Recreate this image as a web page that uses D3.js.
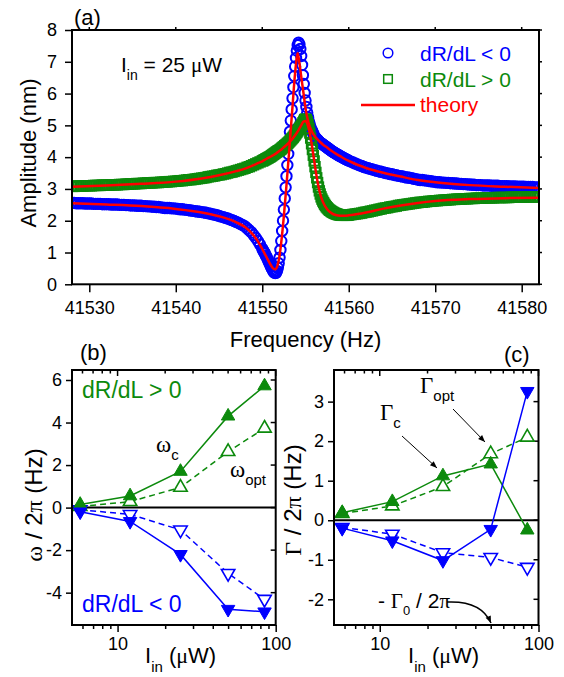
<!DOCTYPE html>
<html>
<head>
<meta charset="utf-8">
<script src="https://cdn.jsdelivr.net/npm/d3@7"></script>
<style>
body { margin: 0; background: #fff; }
svg text { font-family: "Liberation Sans", Arial, Helvetica, sans-serif; fill: #000; }
svg .greek { font-family: "Liberation Serif", "DejaVu Serif", serif; }
</style>
</head>
<body>
<div id="chart-area"></div>
<script>
// ---- panel (a): frequency sweep at 25 uW ----
var sweepHz = [
    41528, 41528.25, 41528.5, 41528.75, 41529, 41529.25, 41529.5, 41529.75,
    41530, 41530.25, 41530.5, 41530.75, 41531, 41531.25, 41531.5, 41531.75,
    41532, 41532.25, 41532.5, 41532.75, 41533, 41533.25, 41533.5, 41533.75,
    41534, 41534.25, 41534.5, 41534.75, 41535, 41535.25, 41535.5, 41535.75,
    41536, 41536.25, 41536.5, 41536.75, 41537, 41537.25, 41537.5, 41537.75,
    41538, 41538.25, 41538.5, 41538.75, 41539, 41539.25, 41539.5, 41539.75,
    41540, 41540.25, 41540.5, 41540.75, 41541, 41541.25, 41541.5, 41541.75,
    41542, 41542.25, 41542.5, 41542.75, 41543, 41543.25, 41543.5, 41543.75,
    41544, 41544.25, 41544.5, 41544.75, 41545, 41545.25, 41545.5, 41545.75,
    41546, 41546.25, 41546.5, 41546.75, 41547, 41547.25, 41547.5, 41547.75,
    41548, 41548.25, 41548.5, 41548.75, 41549, 41549.25, 41549.5, 41549.75,
    41550, 41550.1, 41550.2, 41550.3, 41550.4, 41550.5, 41550.6, 41550.7, 41550.8, 41550.9,
    41551, 41551.1, 41551.2, 41551.3, 41551.4, 41551.5, 41551.6, 41551.7, 41551.8, 41551.9,
    41552, 41552.1, 41552.2, 41552.3, 41552.4, 41552.5, 41552.6, 41552.7, 41552.8, 41552.9,
    41553, 41553.1, 41553.2, 41553.3, 41553.4, 41553.5, 41553.6, 41553.7, 41553.8, 41553.9,
    41554, 41554.1, 41554.2, 41554.3, 41554.4, 41554.5, 41554.6, 41554.7, 41554.8, 41554.9,
    41555, 41555.1, 41555.2, 41555.3, 41555.4, 41555.5, 41555.6, 41555.7, 41555.8, 41555.9,
    41556, 41556.1, 41556.2, 41556.3, 41556.4, 41556.5, 41556.6, 41556.7, 41556.8, 41556.9,
    41557, 41557.1, 41557.2, 41557.3, 41557.4, 41557.5, 41557.6, 41557.7, 41557.8, 41557.9,
    41558, 41558.1, 41558.2, 41558.3, 41558.4, 41558.5, 41558.6, 41558.7, 41558.8, 41558.9,
    41559, 41559.1, 41559.2, 41559.3, 41559.4, 41559.5, 41559.6, 41559.7, 41559.8, 41559.9,
    41560, 41560.25, 41560.5, 41560.75, 41561, 41561.25, 41561.5, 41561.75,
    41562, 41562.25, 41562.5, 41562.75, 41563, 41563.25, 41563.5, 41563.75,
    41564, 41564.25, 41564.5, 41564.75, 41565, 41565.25, 41565.5, 41565.75,
    41566, 41566.25, 41566.5, 41566.75, 41567, 41567.25, 41567.5, 41567.75,
    41568, 41568.25, 41568.5, 41568.75, 41569, 41569.25, 41569.5, 41569.75,
    41570, 41570.25, 41570.5, 41570.75, 41571, 41571.25, 41571.5, 41571.75,
    41572, 41572.25, 41572.5, 41572.75, 41573, 41573.25, 41573.5, 41573.75,
    41574, 41574.25, 41574.5, 41574.75, 41575, 41575.25, 41575.5, 41575.75,
    41576, 41576.25, 41576.5, 41576.75, 41577, 41577.25, 41577.5, 41577.75,
    41578, 41578.25, 41578.5, 41578.75, 41579, 41579.25, 41579.5, 41579.75,
    41580, 41580.25, 41580.5, 41580.75, 41581, 41581.25, 41581.5, 41581.75,
    41582
];

// dR/dL < 0 (circles)
var ampNeg = [
    2.56, 2.56, 2.55, 2.55, 2.55, 2.55, 2.54, 2.54,
    2.54, 2.54, 2.53, 2.53, 2.53, 2.53, 2.52, 2.52,
    2.52, 2.52, 2.51, 2.51, 2.51, 2.51, 2.50, 2.50,
    2.50, 2.49, 2.49, 2.48, 2.48, 2.48, 2.47, 2.47,
    2.47, 2.46, 2.46, 2.45, 2.45, 2.44, 2.44, 2.43,
    2.43, 2.42, 2.41, 2.40, 2.40, 2.40, 2.39, 2.39,
    2.38, 2.37, 2.36, 2.36, 2.35, 2.34, 2.33, 2.32,
    2.31, 2.30, 2.29, 2.28, 2.27, 2.26, 2.25, 2.23,
    2.22, 2.20, 2.19, 2.17, 2.15, 2.13, 2.11, 2.09,
    2.07, 2.04, 2.02, 1.99, 1.96, 1.93, 1.89, 1.86,
    1.82, 1.76, 1.70, 1.63, 1.55, 1.46, 1.36, 1.25,
    1.12, 1.07, 1.02, 0.97, 0.91, 0.86, 0.80, 0.74, 0.68, 0.62,
    0.56, 0.50, 0.45, 0.40, 0.37, 0.35, 0.36, 0.42, 0.52, 0.66,
    0.84, 1.08, 1.36, 1.68, 2.00, 2.35, 2.70, 3.05, 3.40, 3.75,
    4.10, 4.45, 4.80, 5.15, 5.50, 5.85, 6.20, 6.55, 6.85, 7.12,
    7.35, 7.52, 7.60, 7.55, 7.40, 7.18, 6.90, 6.58, 6.30, 6.02,
    5.78, 5.58, 5.40, 5.25, 5.12, 5.02, 4.93, 4.86, 4.80, 4.75,
    4.66, 4.63, 4.60, 4.57, 4.54, 4.51, 4.48, 4.46, 4.44, 4.42,
    4.40, 4.38, 4.36, 4.34, 4.32, 4.30, 4.28, 4.26, 4.24, 4.22,
    4.20, 4.18, 4.16, 4.15, 4.13, 4.11, 4.10, 4.08, 4.06, 4.05,
    4.03, 4.02, 4.00, 3.99, 3.97, 3.96, 3.94, 3.93, 3.92, 3.90,
    3.89, 3.86, 3.83, 3.80, 3.77, 3.74, 3.72, 3.69,
    3.67, 3.65, 3.63, 3.61, 3.59, 3.57, 3.55, 3.54,
    3.52, 3.50, 3.49, 3.47, 3.46, 3.44, 3.43, 3.41,
    3.40, 3.39, 3.37, 3.36, 3.35, 3.34, 3.32, 3.31,
    3.29, 3.28, 3.28, 3.27, 3.26, 3.25, 3.24, 3.23,
    3.22, 3.21, 3.21, 3.20, 3.20, 3.19, 3.19, 3.18,
    3.18, 3.17, 3.17, 3.16, 3.16, 3.15, 3.15, 3.14,
    3.14, 3.13, 3.13, 3.12, 3.12, 3.12, 3.11, 3.11,
    3.11, 3.11, 3.10, 3.10, 3.10, 3.10, 3.09, 3.09,
    3.09, 3.09, 3.08, 3.08, 3.08, 3.08, 3.07, 3.07,
    3.07, 3.07, 3.06, 3.06, 3.06, 3.06, 3.05, 3.05,
    3.05
];

// dR/dL > 0 (squares)
var ampPos = [
    3.08, 3.08, 3.09, 3.09, 3.09, 3.09, 3.10, 3.10,
    3.10, 3.10, 3.11, 3.11, 3.11, 3.11, 3.12, 3.12,
    3.12, 3.12, 3.13, 3.13, 3.13, 3.13, 3.14, 3.14,
    3.14, 3.15, 3.15, 3.16, 3.16, 3.16, 3.17, 3.17,
    3.17, 3.18, 3.18, 3.19, 3.19, 3.19, 3.20, 3.20,
    3.20, 3.21, 3.21, 3.22, 3.22, 3.23, 3.23, 3.24,
    3.24, 3.25, 3.26, 3.26, 3.27, 3.28, 3.29, 3.29,
    3.30, 3.31, 3.32, 3.33, 3.34, 3.35, 3.36, 3.38,
    3.39, 3.40, 3.41, 3.43, 3.44, 3.45, 3.47, 3.48,
    3.50, 3.52, 3.53, 3.55, 3.57, 3.59, 3.61, 3.63,
    3.65, 3.68, 3.70, 3.73, 3.76, 3.79, 3.82, 3.85,
    3.88, 3.89, 3.91, 3.92, 3.94, 3.95, 3.97, 3.98, 4.00, 4.01,
    4.03, 4.05, 4.07, 4.09, 4.11, 4.13, 4.15, 4.17, 4.19, 4.20,
    4.22, 4.24, 4.26, 4.29, 4.31, 4.33, 4.36, 4.38, 4.40, 4.43,
    4.45, 4.48, 4.51, 4.54, 4.57, 4.60, 4.63, 4.67, 4.70, 4.74,
    4.78, 4.82, 4.86, 4.90, 4.94, 4.98, 5.03, 5.08, 5.13, 5.18,
    5.20, 5.18, 5.12, 5.02, 4.90, 4.76, 4.60, 4.42, 4.24, 4.06,
    3.88, 3.70, 3.52, 3.35, 3.20, 3.06, 2.94, 2.84, 2.75, 2.68,
    2.62, 2.57, 2.52, 2.48, 2.44, 2.41, 2.38, 2.35, 2.33, 2.31,
    2.29, 2.27, 2.26, 2.24, 2.23, 2.22, 2.21, 2.20, 2.19, 2.19,
    2.18, 2.18, 2.17, 2.17, 2.17, 2.17, 2.17, 2.17, 2.17, 2.18,
    2.18, 2.19, 2.20, 2.21, 2.22, 2.23, 2.24, 2.26,
    2.27, 2.28, 2.30, 2.31, 2.33, 2.34, 2.36, 2.37,
    2.39, 2.40, 2.41, 2.43, 2.44, 2.45, 2.46, 2.48,
    2.49, 2.50, 2.51, 2.52, 2.53, 2.54, 2.55, 2.56,
    2.57, 2.58, 2.58, 2.59, 2.60, 2.61, 2.61, 2.62,
    2.63, 2.63, 2.64, 2.64, 2.65, 2.65, 2.66, 2.66,
    2.67, 2.67, 2.68, 2.68, 2.68, 2.69, 2.69, 2.69,
    2.70, 2.70, 2.70, 2.71, 2.71, 2.71, 2.71, 2.72,
    2.72, 2.72, 2.72, 2.72, 2.73, 2.73, 2.73, 2.73,
    2.73, 2.73, 2.73, 2.74, 2.74, 2.74, 2.74, 2.74,
    2.74, 2.74, 2.74, 2.75, 2.75, 2.75, 2.75, 2.75,
    2.75
];

// theory curves (red)
var theoryHz = [
    41528, 41532, 41536, 41540, 41543, 41545, 41547, 41548, 41549, 41549.5,
    41550, 41550.5, 41551, 41551.25, 41551.5, 41551.75, 41552, 41552.25, 41552.5, 41552.75,
    41553, 41553.25, 41553.5, 41553.75, 41554, 41554.1, 41554.25, 41554.5, 41554.75, 41555,
    41555.25, 41555.5, 41555.75, 41556, 41556.25, 41556.5, 41556.75, 41557, 41557.5, 41558,
    41558.5, 41559, 41559.5, 41560, 41561, 41562, 41564, 41566, 41568, 41570,
    41574, 41578, 41582
];
var theoryNeg = [
    2.55, 2.51, 2.46, 2.37, 2.26, 2.14, 1.95, 1.80, 1.54, 1.35,
    1.11, 0.85, 0.60, 0.50, 0.47, 0.58, 0.90, 1.45, 2.15, 2.95,
    3.80, 4.70, 5.60, 6.50, 7.15, 7.27, 7.05, 6.55, 6.05, 5.55,
    5.18, 4.95, 4.80, 4.68, 4.60, 4.53, 4.46, 4.40, 4.30, 4.20,
    4.11, 4.03, 3.95, 3.88, 3.76, 3.66, 3.51, 3.39, 3.28, 3.21,
    3.12, 3.07, 3.03
];
var theoryPos = [
    3.07, 3.11, 3.16, 3.23, 3.33, 3.43, 3.56, 3.64, 3.75, 3.81,
    3.87, 3.95, 4.02, 4.06, 4.10, 4.15, 4.20, 4.25, 4.31, 4.37,
    4.43, 4.50, 4.58, 4.67, 4.77, 4.81, 4.88, 5.00, 5.12, 5.14,
    5.02, 4.75, 4.35, 3.90, 3.45, 3.08, 2.80, 2.60, 2.36, 2.24,
    2.18, 2.16, 2.16, 2.17, 2.21, 2.26, 2.38, 2.48, 2.56, 2.62,
    2.68, 2.71, 2.72
];
var freqTicks = [41530, 41540, 41550, 41560, 41570, 41580];
var ampTicks = [0, 1, 2, 3, 4, 5, 6, 7, 8];

// ---- panels (b) and (c): versus input power ----
var powerUW = [5.8, 12, 25, 50, 85];
var omegaCPos = [0.15, 0.55, 1.70, 4.30, 5.72];
var omegaOptPos = [0.05, 0.28, 0.95, 2.63, 3.73];
var omegaCNeg = [-0.20, -0.65, -2.20, -4.78, -4.90];
var omegaOptNeg = [-0.10, -0.32, -1.05, -3.09, -4.31];
var gammaCPos = [0.19, 0.47, 1.12, 1.42, -0.25];
var gammaOptPos = [0.17, 0.36, 0.85, 1.68, 2.10];
var gammaCNeg = [-0.20, -0.52, -1.02, -0.23, 3.26];
var gammaOptNeg = [-0.18, -0.35, -0.82, -0.94, -1.19];
var powerTicks = [10, 100];
var powerMinor = [6, 7, 8, 9, 20, 30, 40, 50, 60, 70, 80, 90];
var omegaTicks = [-4, -2, 0, 2, 4, 6];
var gammaTicks = [-2, -1, 0, 1, 2, 3];

var blue = "#0000ff", green = "#0c8a0c", red = "#ff0000";
var plain = d => String(d);  // hyphen minus, like the original

var svg = d3.select("#chart-area").append("svg")
    .attr("width", 564)
    .attr("height", 677);

svg.append("rect").attr("width", 564).attr("height", 677).attr("fill", "#fff");

var defs = svg.append("defs");
defs.append("marker")
    .attr("id", "arrowhead")
    .attr("viewBox", "0 0 10 10")
    .attr("refX", 10).attr("refY", 5)
    .attr("markerWidth", 10).attr("markerHeight", 7)
    .attr("markerUnits", "userSpaceOnUse")
    .attr("orient", "auto")
    .append("path")
    .attr("d", "M0,1 L10,5 L0,9 Z")
    .attr("fill", "#000");

function styleAxis(g, size) {
    g.attr("font-size", size).attr("font-family", null);
    g.select(".domain").remove();
    g.selectAll(".tick line").attr("stroke", "#000").attr("stroke-width", 1.5);
    g.selectAll(".tick text").attr("fill", "#000");
}

// text made of pieces: [string, greek?, baseline shift, size]
function richText(parent, x, y, pieces, size, color, anchor) {
    var t = parent.append("text")
        .attr("x", x).attr("y", y)
        .attr("font-size", size)
        .attr("text-anchor", anchor || "start")
        .style("fill", color || "#000");
    var shift = 0;
    pieces.forEach(p => {
        var s = t.append("tspan").text(p[0]);
        if (p[1]) s.attr("class", "greek");
        var target = p[2] || 0;
        if (target !== shift) { s.attr("dy", target - shift); shift = target; }
        if (p[3]) s.attr("font-size", p[3]);
    });
    return t;
}

// ================= panel (a) =================
var xA = d3.scaleLinear().domain([41528, 41582]).range([72, 539]);
var yA = d3.scaleLinear().domain([0, 8]).range([284.3, 30]);

defs.append("clipPath").attr("id", "clipA")
    .append("rect")
    .attr("x", 72).attr("y", yA(8))
    .attr("width", 539 - 72).attr("height", yA(0) - yA(8));

var gA = svg.append("g");

gA.append("g")
    .attr("transform", `translate(0, ${yA(0)})`)
    .call(d3.axisBottom(xA).tickValues(freqTicks).tickSize(8).tickPadding(9).tickFormat(plain))
    .call(g => styleAxis(g, 18));

gA.append("g")
    .attr("transform", `translate(${xA.range()[0]}, 0)`)
    .call(d3.axisLeft(yA).tickValues(ampTicks).tickSize(7).tickPadding(8).tickFormat(plain))
    .call(g => styleAxis(g, 18));

// mirrored ticks on top and right
gA.selectAll("line.topTick").data(freqTicks).join("line")
    .attr("x1", d => xA(d)).attr("x2", d => xA(d))
    .attr("y1", yA(8)).attr("y2", yA(8) - 3)
    .attr("stroke", "#000").attr("stroke-width", 1.5);
gA.selectAll("line.rightTick").data(ampTicks).join("line")
    .attr("x1", xA.range()[1]).attr("x2", xA.range()[1] + 3)
    .attr("y1", d => yA(d)).attr("y2", d => yA(d))
    .attr("stroke", "#000").attr("stroke-width", 1.5);

var neg = d3.zip(sweepHz, ampNeg);
var pos = d3.zip(sweepHz, ampPos);

var plotA = gA.append("g").attr("clip-path", "url(#clipA)");

plotA.append("g").selectAll("circle").data(neg).join("circle")
    .attr("cx", d => xA(d[0])).attr("cy", d => yA(d[1]))
    .attr("r", 5.2)
    .attr("fill", "none").attr("stroke", blue).attr("stroke-width", 2);

plotA.append("g").selectAll("rect").data(pos).join("rect")
    .attr("x", d => xA(d[0]) - 4.7).attr("y", d => yA(d[1]) - 4.7)
    .attr("width", 9.4).attr("height", 9.4)
    .attr("fill", "none").attr("stroke", green).attr("stroke-width", 2);

var theoryLine = d3.line()
    .x(d => xA(d[0])).y(d => yA(d[1]))
    .curve(d3.curveMonotoneX);

plotA.append("path").attr("d", theoryLine(d3.zip(theoryHz, theoryNeg)))
    .attr("fill", "none").attr("stroke", red).attr("stroke-width", 2.5);
plotA.append("path").attr("d", theoryLine(d3.zip(theoryHz, theoryPos)))
    .attr("fill", "none").attr("stroke", red).attr("stroke-width", 2.5);

gA.append("rect")
    .attr("x", 72).attr("y", yA(8))
    .attr("width", 539 - 72).attr("height", yA(0) - yA(8))
    .attr("fill", "none").attr("stroke", "#000").attr("stroke-width", 2);

// legend
gA.append("circle").attr("cx", 388).attr("cy", 53).attr("r", 4.8)
    .attr("fill", "none").attr("stroke", blue).attr("stroke-width", 1.5);
gA.append("rect").attr("x", 388 - 4.3).attr("y", 79 - 4.3).attr("width", 8.6).attr("height", 8.6)
    .attr("fill", "none").attr("stroke", green).attr("stroke-width", 1.5);
gA.append("line").attr("x1", 361).attr("x2", 415).attr("y1", 105).attr("y2", 105)
    .attr("stroke", red).attr("stroke-width", 2.5);
richText(gA, 420, 61, [["dR/dL < 0"]], 21, blue);
richText(gA, 420, 87, [["dR/dL > 0"]], 21, green);
richText(gA, 420, 112, [["theory"]], 21, red);

richText(gA, 121, 72, [["I"], ["in", false, 8, 14], [" = 25 ", false, 0], ["μ", true], ["W"]], 21);
richText(svg, 74, 25, [["(a)"]], 22);

richText(svg, 305.5, 347, [["Frequency (Hz)"]], 22, "#000", "middle");
richText(svg, 0, 0, [["Amplitude (nm)"]], 22, "#000", "middle")
    .attr("transform", "translate(36, 153) rotate(-90)");

// ================= panels (b), (c) =================
function powerPanel(cfg) {
    var x = d3.scaleLog().domain([5.15, 100]).range(cfg.xRange);
    var y = d3.scaleLinear().domain(cfg.yDomain).range([625, 370]);
    var g = svg.append("g");
    var x0 = cfg.xRange[0], x1 = cfg.xRange[1];

    g.append("g")
        .attr("transform", "translate(0, 625)")
        .call(d3.axisBottom(x).tickValues(powerTicks).tickSize(7).tickPadding(5).tickFormat(plain))
        .call(a => styleAxis(a, 18));
    g.append("g")
        .attr("transform", "translate(0, 625)")
        .call(d3.axisBottom(x).tickValues(powerMinor).tickSize(4).tickFormat(""))
        .call(a => styleAxis(a, 18));
    g.append("g")
        .attr("transform", `translate(${x0}, 0)`)
        .call(d3.axisLeft(y).tickValues(cfg.yTicks).tickSize(6).tickPadding(4).tickFormat(plain))
        .call(a => styleAxis(a, 18));

    // inner ticks on top and right
    g.selectAll("line.top").data(powerTicks.concat(powerMinor)).join("line")
        .attr("x1", d => x(d)).attr("x2", d => x(d))
        .attr("y1", 370).attr("y2", d => 370 + (powerTicks.includes(d) ? 6 : 3.5))
        .attr("stroke", "#000").attr("stroke-width", 1.5);
    g.selectAll("line.right").data(cfg.yTicks).join("line")
        .attr("x1", x1).attr("x2", x1 - 5)
        .attr("y1", d => y(d)).attr("y2", d => y(d))
        .attr("stroke", "#000").attr("stroke-width", 1.5);

    g.append("line")
        .attr("x1", x0).attr("x2", x1)
        .attr("y1", y(0)).attr("y2", y(0))
        .attr("stroke", "#000").attr("stroke-width", 2);

    var line = d3.line().x(d => x(d[0])).y(d => y(d[1]));
    cfg.series.forEach(s => {
        g.append("path")
            .attr("d", line(d3.zip(powerUW, s.values)))
            .attr("fill", "none").attr("stroke", s.color).attr("stroke-width", 1.5)
            .attr("stroke-dasharray", s.filled ? null : "6,4");
    });
    var tri = d3.symbol(d3.symbolTriangle, 78);
    cfg.series.slice().sort((a, b) => a.filled - b.filled).forEach(s => {
        g.append("g").selectAll("path").data(d3.zip(powerUW, s.values)).join("path")
            .attr("d", tri)
            .attr("transform", d => `translate(${x(d[0])}, ${y(d[1])})` + (s.down ? " rotate(180)" : ""))
            .attr("fill", s.filled ? s.color : "#fff")
            .attr("stroke", s.color).attr("stroke-width", s.filled ? 1 : 1.6);
    });

    g.append("rect")
        .attr("x", x0).attr("y", 370).attr("width", x1 - x0).attr("height", 255)
        .attr("fill", "none").attr("stroke", "#000").attr("stroke-width", 2);

    richText(g, cfg.xLabelX, 663, [["I"], ["in", false, 9, 15], [" (", false, 0], ["μ", true], ["W)"]], 22);
    return g;
}

var gB = powerPanel({
    xRange: [72, 275.7],
    yDomain: [-5.52, 6.47],
    yTicks: omegaTicks,
    xLabelX: 145,
    series: [
        { values: omegaCPos, color: green, filled: true, down: false },
        { values: omegaOptPos, color: green, filled: false, down: false },
        { values: omegaCNeg, color: blue, filled: true, down: true },
        { values: omegaOptNeg, color: blue, filled: false, down: true }
    ]
});
richText(gB, 80, 360, [["(b)"]], 22);
richText(gB, 82, 398, [["dR/dL > 0"]], 23, green);
richText(gB, 82, 612, [["dR/dL < 0"]], 23, blue);
richText(gB, 156, 452, [["ω", true], ["c", false, 8, 15]], 23);
richText(gB, 230, 477, [["ω", true], ["opt", false, 8, 15]], 23);
richText(gB, 0, 0, [["ω", true], [" / 2"], ["π", true], [" (Hz)"]], 24, "#000", "middle")
    .attr("transform", "translate(42, 505) rotate(-90)");

var gC = powerPanel({
    xRange: [334, 538.5],
    yDomain: [-2.65, 3.8],
    yTicks: gammaTicks,
    xLabelX: 408,
    series: [
        { values: gammaCPos, color: green, filled: true, down: false },
        { values: gammaOptPos, color: green, filled: false, down: false },
        { values: gammaCNeg, color: blue, filled: true, down: true },
        { values: gammaOptNeg, color: blue, filled: false, down: true }
    ]
});
richText(gC, 504, 362, [["(c)"]], 22);
richText(gC, 380, 420, [["Γ", true], ["c", false, 8, 15]], 23);
richText(gC, 420, 393, [["Γ", true], ["opt", false, 8, 15]], 23);
richText(gC, 378, 608, [["- "], ["Γ", true], ["0", false, 7, 13], [" / 2", false, 0], ["π", true]], 21);
richText(gC, 0, 0, [["Γ", true], [" / 2"], ["π", true], [" (Hz)"]], 24, "#000", "middle")
    .attr("transform", "translate(301, 500) rotate(-90)");

gC.append("line").attr("x1", 402).attr("y1", 436).attr("x2", 437).attr("y2", 468)
    .attr("stroke", "#000").attr("stroke-width", 1).attr("marker-end", "url(#arrowhead)");
gC.append("line").attr("x1", 453).attr("y1", 409).attr("x2", 485).attr("y2", 442)
    .attr("stroke", "#000").attr("stroke-width", 1).attr("marker-end", "url(#arrowhead)");
gC.append("path").attr("d", "M447,602 C468,601 484,607 491,623")
    .attr("fill", "none").attr("stroke", "#000").attr("stroke-width", 1.5)
    .attr("marker-end", "url(#arrowhead)");
</script>
</body>
</html>
